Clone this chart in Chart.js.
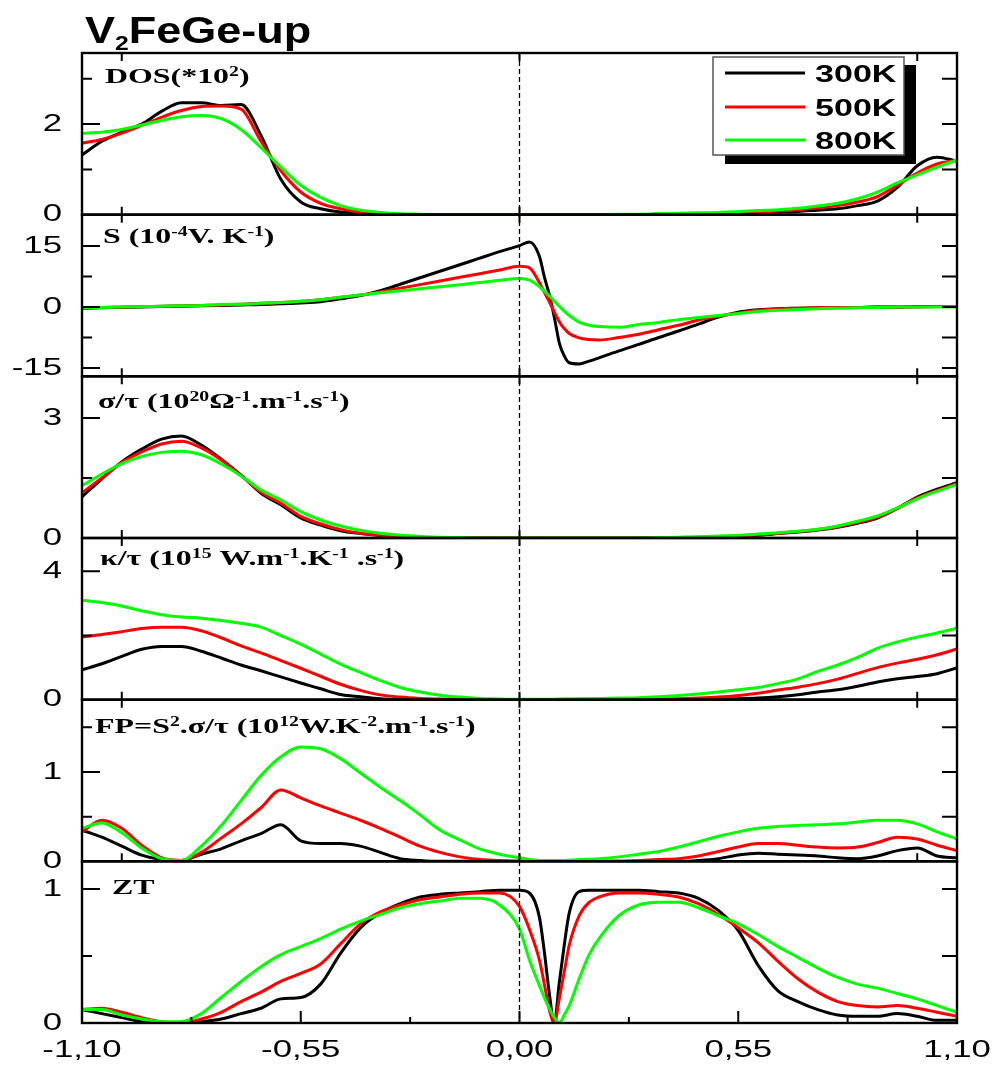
<!DOCTYPE html>
<html>
<head>
<meta charset="utf-8">
<script src="https://cdn.jsdelivr.net/npm/chart.js@4.4.1/dist/chart.umd.min.js"></script>
<style>
html,body{margin:0;padding:0;background:#fff;}
#wrap{position:relative;width:994px;height:1065px;}
canvas{display:block;}
</style>
</head>
<body>
<div id="wrap"><canvas id="c" width="994" height="1065"></canvas></div>
<script>
// ---------------- DATA ----------------
const xBase = [-1.10,-1.05,-1.00,-0.95,-0.90,-0.85,-0.80,-0.75,-0.70,-0.65,-0.60,-0.55,-0.50,-0.45,-0.40,-0.35,-0.30,-0.25,-0.20,-0.15,-0.10,-0.05,0.00,
  0.05,0.10,0.15,0.20,0.25,0.30,0.35,0.40,0.45,0.50,0.55,0.60,0.65,0.70,0.75,0.80,0.85,0.90,0.95,1.00,1.05,1.10];
const xFine = [-1.10,-1.05,-1.00,-0.95,-0.90,-0.85,-0.80,-0.75,-0.70,-0.65,-0.60,-0.55,-0.50,-0.45,-0.40,-0.35,-0.30,-0.25,-0.20,-0.15,-0.10,-0.05,0.00,
  0.025,0.05,0.0625,0.075,0.0875,0.10,0.1125,0.125,0.15,0.175,
  0.20,0.25,0.30,0.35,0.40,0.45,0.50,0.55,0.60,0.65,0.70,0.75,0.80,0.85,0.90,0.95,1.00,1.05,1.10];

const temps = ['300K','500K','800K'];

// DOS (*10^2)
const dos300 = [1.32,1.62,1.82,2.00,2.28, 2.47,2.47,2.41,2.43,1.75, 0.78,0.28,0.13,0.06,0.03, 0.01,0.00,0.00,0.00,0.00, 0.00,0.00,0.00,0.00,0.00, 0.00,0.00,0.00,0.00,0.01, 0.01,0.02,0.03,0.04,0.05, 0.06,0.07,0.10,0.13,0.20, 0.30,0.60,1.08,1.27,1.18];
const dos500 = [1.58,1.66,1.80,1.97,2.15, 2.30,2.39,2.40,2.33,1.62, 0.97,0.50,0.25,0.13,0.06, 0.03,0.01,0.00,0.00,0.00, 0.00,0.00,0.00,0.00,0.00, 0.00,0.00,0.00,0.00,0.01, 0.01,0.02,0.03,0.05,0.06, 0.08,0.11,0.15,0.20,0.28, 0.40,0.65,0.92,1.12,1.20];
const dos800 = [1.80,1.82,1.88,1.98,2.08, 2.16,2.19,2.12,1.88,1.48, 1.05,0.65,0.38,0.20,0.10, 0.05,0.02,0.01,0.00,0.00, 0.00,0.00,0.00,0.00,0.00, 0.00,0.00,0.01,0.01,0.02, 0.03,0.04,0.05,0.07,0.09, 0.11,0.14,0.19,0.25,0.35, 0.50,0.70,0.88,1.05,1.21];

// S (10^-4 V/K)  on xFine
const s300 = [-0.3,-0.2,-0.1,0.0,0.1, 0.2,0.3,0.4,0.5,0.6, 0.8,1.0,1.3,2.0,2.8, 4.0,5.6,7.2,8.8,10.4, 12.0,13.6,15.1,
  16.0,12.5,7.4,3.0,-2.5, -8.8,-12.0,-13.7,-14.0,-13.3,
  -12.5,-10.8,-9.2,-7.5,-5.9, -4.2,-2.5,-1.3,-0.7,-0.4, -0.3,-0.2,-0.1,-0.1,0.0, 0.0,0.1,0.1,0.1];
const s500 = [-0.2,-0.1,0.0,0.1,0.2, 0.3,0.4,0.5,0.7,0.9, 1.1,1.4,1.8,2.4,2.95, 3.7,4.6,5.5,6.4,7.3, 8.2,9.1,10.0,
  9.6,6.0,3.6,1.3,-1.2, -3.6,-5.3,-6.5,-7.6,-8.0,
  -8.1,-7.5,-6.7,-5.6,-4.5, -3.2,-2.3,-1.5,-0.8,-0.5, -0.3,-0.2,-0.1,-0.1,0.0, 0.0,0.0,0.1,0.1];
const s800 = [-0.2,-0.1,0.0,0.1,0.2, 0.3,0.4,0.6,0.7,0.9, 1.1,1.4,1.8,2.4,2.95, 3.5,4.0,4.5,5.0,5.5, 6.0,6.6,7.0,
  6.6,5.0,3.9,2.7,1.4, 0.2,-1.0,-2.1,-3.7,-4.5,
  -4.8,-5.0,-4.3,-3.8,-3.1, -2.6,-2.1,-1.6,-1.1,-0.8, -0.6,-0.4,-0.3,-0.2,-0.1, 0.0,0.0,0.0,0.0];

// sigma/tau (10^20)
const sig300 = [1.03,1.48,1.90,2.22,2.47, 2.55,2.32,1.97,1.57,1.12, 0.83,0.50,0.32,0.18,0.11, 0.06,0.03,0.01,0.00,0.00, 0.00,0.00,0.00,0.00,0.00, 0.00,0.00,0.00,0.00,0.00, 0.00,0.01,0.02,0.04,0.07, 0.11,0.15,0.20,0.27,0.37, 0.50,0.74,1.02,1.22,1.38];
const sig500 = [1.13,1.50,1.88,2.15,2.35, 2.42,2.25,1.95,1.56,1.15, 0.87,0.54,0.35,0.21,0.12, 0.07,0.04,0.02,0.01,0.00, 0.00,0.00,0.00,0.00,0.00, 0.00,0.00,0.00,0.00,0.00, 0.01,0.02,0.03,0.05,0.08, 0.12,0.16,0.21,0.28,0.39, 0.52,0.74,1.00,1.19,1.36];
const sig800 = [1.31,1.60,1.86,2.04,2.14, 2.17,2.08,1.85,1.55,1.20, 0.95,0.66,0.45,0.30,0.19, 0.12,0.07,0.04,0.02,0.01, 0.00,0.00,0.00,0.00,0.00, 0.00,0.00,0.00,0.00,0.01, 0.02,0.03,0.05,0.07,0.10, 0.13,0.17,0.22,0.30,0.42, 0.55,0.75,0.98,1.17,1.34];

// kappa/tau (10^15)
const kap300 = [0.93,1.12,1.35,1.57,1.66, 1.66,1.51,1.30,1.08,0.90, 0.71,0.52,0.34,0.16,0.09, 0.03,0.01,0.00,0.00,0.00, 0.00,0.00,0.00,0.00,0.00, 0.00,0.00,0.00,0.00,0.00, 0.00,0.01,0.02,0.03,0.05, 0.09,0.15,0.24,0.31,0.42, 0.55,0.65,0.72,0.81,0.99];
const kap500 = [1.95,2.03,2.12,2.22,2.26, 2.26,2.15,1.93,1.68,1.46, 1.22,0.98,0.73,0.48,0.29, 0.15,0.08,0.04,0.02,0.01, 0.00,0.00,0.00,0.00,0.00, 0.00,0.00,0.00,0.01,0.02, 0.03,0.05,0.08,0.13,0.20, 0.30,0.39,0.50,0.64,0.82, 1.00,1.14,1.26,1.40,1.58];
const kap800 = [3.10,3.03,2.92,2.77,2.65, 2.58,2.54,2.47,2.38,2.26, 2.00,1.73,1.42,1.11,0.85, 0.60,0.38,0.24,0.14,0.08, 0.04,0.02,0.01,0.01,0.02, 0.03,0.04,0.05,0.06,0.09, 0.13,0.18,0.24,0.31,0.38, 0.50,0.65,0.88,1.08,1.32, 1.60,1.80,1.95,2.08,2.23];

// FP (10^12)
const fp300 = [0.35,0.27,0.17,0.07,0.02, 0.01,0.08,0.14,0.23,0.31, 0.41,0.23,0.20,0.20,0.17, 0.10,0.03,0.01,0.00,0.00, 0.00,0.00,0.00,0.00,0.00, 0.00,0.00,0.00,0.00,0.00, 0.00,0.01,0.03,0.07,0.09, 0.08,0.07,0.06,0.04,0.03, 0.06,0.12,0.15,0.06,0.04];
const fp500 = [0.33,0.46,0.37,0.18,0.04, 0.01,0.10,0.26,0.42,0.60, 0.80,0.71,0.62,0.54,0.46, 0.37,0.27,0.17,0.10,0.05, 0.02,0.01,0.00,0.00,0.00, 0.00,0.00,0.00,0.01,0.02, 0.03,0.06,0.11,0.16,0.20, 0.20,0.18,0.16,0.15,0.16, 0.21,0.27,0.25,0.18,0.12];
const fp800 = [0.37,0.43,0.32,0.15,0.03, 0.01,0.17,0.40,0.68,0.96, 1.17,1.28,1.26,1.15,0.99, 0.83,0.68,0.52,0.35,0.24, 0.14,0.08,0.04,0.01,0.01, 0.02,0.03,0.05,0.08,0.11, 0.16,0.22,0.28,0.33,0.37, 0.39,0.40,0.41,0.42,0.44, 0.46,0.46,0.42,0.33,0.25];

// ZT on xFine
const zt300 = [0.10,0.07,0.04,0.01,0.00, 0.00,0.01,0.03,0.07,0.11, 0.18,0.19,0.29,0.52,0.71, 0.82,0.89,0.94,0.96,0.97, 0.98,0.99,0.99,
  0.97,0.79,0.53,0.22,0.00, 0.30,0.58,0.82,0.98,0.99,
  0.99,0.99,0.99,0.98,0.97, 0.93,0.84,0.69,0.43,0.24, 0.16,0.10,0.06,0.05,0.05, 0.07,0.05,0.02,0.02];
const zt500 = [0.10,0.11,0.08,0.04,0.01, 0.00,0.03,0.08,0.16,0.23, 0.31,0.37,0.44,0.59,0.74, 0.83,0.88,0.92,0.94,0.96, 0.97,0.97,0.87,
  0.70,0.47,0.29,0.10,0.00, 0.18,0.38,0.58,0.80,0.90,
  0.94,0.97,0.97,0.96,0.94, 0.89,0.81,0.71,0.60,0.46, 0.33,0.23,0.16,0.13,0.12, 0.13,0.11,0.08,0.05];
const zt800 = [0.10,0.10,0.06,0.03,0.01, 0.01,0.07,0.19,0.31,0.42, 0.51,0.57,0.63,0.70,0.76, 0.81,0.86,0.89,0.91,0.93, 0.93,0.88,0.70,
  0.47,0.28,0.19,0.11,0.04, 0.00,0.06,0.13,0.33,0.51,
  0.63,0.80,0.88,0.90,0.90, 0.86,0.80,0.74,0.66,0.57, 0.49,0.41,0.34,0.29,0.26, 0.22,0.18,0.13,0.08];

// tick values / labels
const xTickValues = [-1.10,-0.55,0.00,0.55,1.10];
const xTickLabels = ['-1,10','-0,55','0,00','0,55','1,10'];
const panelTitles = ['DOS(*10^{2})','S (10^{-4}V. K^{-1})','σ/τ (10^{20}Ω^{-1}.m^{-1}.s^{-1})',
  'κ/τ (10^{15} W.m^{-1}.K^{-1} .s^{-1})','FP=S^{2}.σ/τ (10^{12}W.K^{-2}.m^{-1}.s^{-1})','ZT'];
const chartTitle = 'V_{2}FeGe-up';

// ---------------- PANEL CONFIG ----------------
const panels = [
  {id:'yDOS', x:xBase, series:[dos300,dos500,dos800], min:0, max:3.57, labels:[0,2], major:[2], minor:[1,3], tx:105, ty:83},
  {id:'yS',   x:xFine, series:[s300,s500,s800], min:-17.04, max:22.7, labels:[-15,0,15], major:[-15,0,15], minor:[-7.5,7.5], tx:103, ty:243},
  {id:'ySig', x:xBase, series:[sig300,sig500,sig800], min:0, max:4.04, labels:[0,3], major:[3], minor:[1.5], tx:98, ty:408},
  {id:'yKap', x:xBase, series:[kap300,kap500,kap800], min:0, max:5.04, labels:[0,4], major:[4], minor:[2], tx:100, ty:565},
  {id:'yFP',  x:xBase, series:[fp300,fp500,fp800], min:0, max:1.81, labels:[0,1], major:[1], minor:[0.5,1.5], tx:95, ty:733},
  {id:'yZT',  x:xFine, series:[zt300,zt500,zt800], min:0, max:1.206, labels:[0,1], major:[1], minor:[0.5], tx:112, ty:894}
];
const lineColors = ['#000000','#ff0000','#00ff00'];

const datasets = [];
panels.forEach((p) => {
  p.series.forEach((vals, k) => {
    datasets.push({
      label: temps[k],
      data: p.x.map((xv, j) => ({x: xv, y: vals[j]})),
      yAxisID: p.id,
      xAxisID: 'x',
      borderColor: lineColors[k],
      backgroundColor: lineColors[k],
      borderWidth: 3,
      pointRadius: 0,
      fill: false,
      cubicInterpolationMode: 'monotone',
      borderJoinStyle: 'round',
      order: 3 - k
    });
  });
});

const scales = { x: {type:'linear', min:-1.1, max:1.1, display:false} };
panels.forEach((p, i) => {
  scales[p.id] = {type:'linear', position:'left', stack:'panels', stackWeight:1, weight: 6 - i,
                  min:p.min, max:p.max, display:false};
});

// ---------------- TEXT HELPERS ----------------
function parseRich(str){
  const out = []; const re = /([\^_])\{([^}]*)\}|([^\^_]+)/g; let m;
  while ((m = re.exec(str))) {
    if (m[3] !== undefined) out.push({t:m[3]});
    else out.push({t:m[2], sup:m[1]==='^', sub:m[1]==='_'});
  }
  return out;
}
function drawRich(ctx, str, x, y, size, family, weight, sx, opt){
  opt = opt || {};
  const supScale = opt.supScale || 0.62, supRaise = opt.supRaise || 0.30, subDrop = opt.subDrop || 0.2;
  ctx.save();
  ctx.translate(x, y); ctx.scale(sx, 1);
  ctx.textAlign = 'left'; ctx.textBaseline = 'alphabetic'; ctx.fillStyle = '#000';
  let cx = 0;
  parseRich(str).forEach(s => {
    const small = s.sup || s.sub;
    ctx.font = weight + ' ' + (small ? size*supScale : size) + 'px ' + family;
    const dy = s.sup ? -size*supRaise : (s.sub ? size*subDrop : 0);
    ctx.fillText(s.t, cx, dy);
    cx += ctx.measureText(s.t).width;
  });
  ctx.restore();
}
function drawStretched(ctx, t, x, y, font, sx, align, baseline){
  ctx.save();
  ctx.translate(x, y); ctx.scale(sx, 1);
  ctx.font = font; ctx.textAlign = align; ctx.textBaseline = baseline; ctx.fillStyle = '#000';
  ctx.fillText(t, 0, 0);
  ctx.restore();
}

const SANS = "'Liberation Sans', Arial, sans-serif";
const SERIF = "'Liberation Serif', 'Times New Roman', serif";

const decor = {
  id: 'decor',
  afterDatasetsDraw(chart){
    const ctx = chart.ctx, xs = chart.scales.x, A = chart.chartArea;
    const L = A.left, R = A.right;
    ctx.save();
    // dashed zero line
    const x0 = xs.getPixelForValue(0);
    ctx.strokeStyle = '#000'; ctx.lineWidth = 1.3; ctx.setLineDash([5,3]);
    ctx.beginPath(); ctx.moveTo(x0, A.top); ctx.lineTo(x0, A.bottom); ctx.stroke();
    ctx.setLineDash([]);
    panels.forEach((p, i) => {
      const s = chart.scales[p.id];
      const top = s.top, bot = s.bottom;
      ctx.strokeStyle = '#000'; ctx.lineWidth = 2.4;
      ctx.strokeRect(L, top, R - L, bot - top);
      ctx.lineWidth = 2;
      ctx.beginPath();
      p.major.forEach(v => { const y = s.getPixelForValue(v);
        ctx.moveTo(L, y); ctx.lineTo(L + 18, y); ctx.moveTo(R, y); ctx.lineTo(R - 15, y); });
      p.minor.forEach(v => { const y = s.getPixelForValue(v);
        ctx.moveTo(L, y); ctx.lineTo(L + 10, y); ctx.moveTo(R, y); ctx.lineTo(R - 15, y); });
      if (i < panels.length - 1) {
        [-1, 0, 1].forEach(v => { const x = xs.getPixelForValue(v);
          ctx.moveTo(x, top); ctx.lineTo(x, top + 8); ctx.moveTo(x, bot); ctx.lineTo(x, bot - 8); });
      } else {
        [-0.55, 0, 0.55].forEach(v => { const x = xs.getPixelForValue(v);
          ctx.moveTo(x, bot); ctx.lineTo(x, bot - 12); });
        [-0.825, -0.275, 0.275, 0.825].forEach(v => { const x = xs.getPixelForValue(v);
          ctx.moveTo(x, bot); ctx.lineTo(x, bot - 6); });
      }
      ctx.stroke();
      // y tick labels
      p.labels.forEach(v => {
        drawStretched(ctx, String(v), L - 20, s.getPixelForValue(v), '24px ' + SANS, 1.45, 'right', 'middle');
      });
      // panel title
      drawRich(ctx, panelTitles[i], p.tx, p.ty, 22, SERIF, 'bold', 1.45, {supScale:0.62, supRaise:0.30});
    });
    // x tick labels
    xTickValues.forEach((v, k) => {
      drawStretched(ctx, xTickLabels[k], xs.getPixelForValue(v), 1050, '24px ' + SANS, 1.45, 'center', 'middle');
    });
    // chart title
    drawRich(ctx, chartTitle, 85, 43, 36, SANS, 'bold', 1.25, {supScale:0.55, subDrop:0.2});
    // legend (box with shadow)
    ctx.fillStyle = '#000'; ctx.fillRect(725, 65, 191, 99);
    ctx.fillStyle = '#fff'; ctx.fillRect(713, 57, 191, 98);
    ctx.strokeStyle = '#555'; ctx.lineWidth = 1.5; ctx.strokeRect(713, 57, 191, 98);
    const rowsY = [73, 107, 140];
    temps.forEach((t, k) => {
      ctx.strokeStyle = lineColors[k]; ctx.lineWidth = 3;
      ctx.beginPath(); ctx.moveTo(725, rowsY[k]); ctx.lineTo(805, rowsY[k]); ctx.stroke();
      drawStretched(ctx, t, 815, rowsY[k] + 9, 'bold 24px ' + SANS, 1.42, 'left', 'alphabetic');
    });
    ctx.restore();
  }
};

new Chart(document.getElementById('c'), {
  type: 'line',
  data: { datasets },
  options: {
    responsive: false,
    animation: false,
    devicePixelRatio: 1,
    events: [],
    layout: { padding: { left: 82, right: 37, top: 53, bottom: 42 } },
    plugins: { legend: { display: false }, tooltip: { enabled: false } },
    scales
  },
  plugins: [decor]
});
</script>
</body>
</html>
